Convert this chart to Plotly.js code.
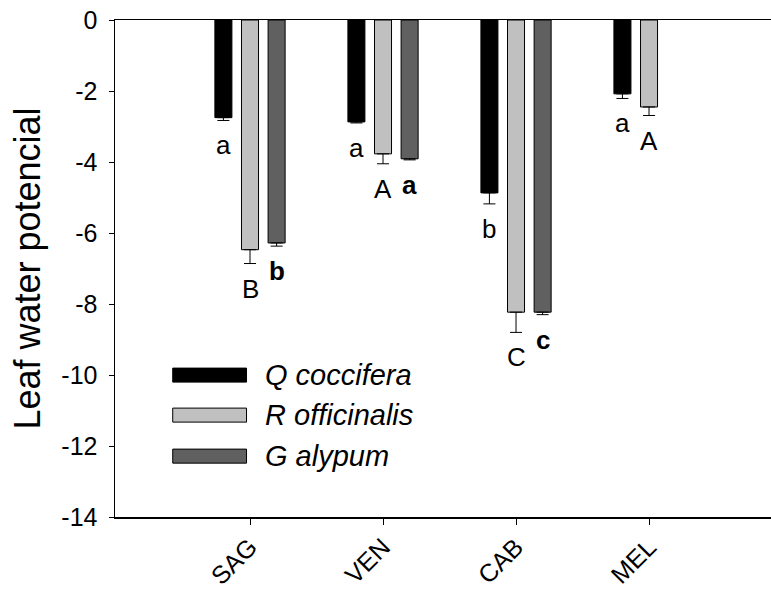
<!DOCTYPE html>
<html>
<head>
<meta charset="utf-8">
<script src="https://cdn.plot.ly/plotly-3.0.1.min.js"></script>
<style>html,body{margin:0;padding:0;background:#fff;}#chart{width:771px;height:590px;}</style>
</head>
<body>
<div id="chart"></div>
<script>
// ---- data ----
const categories = ['SAG', 'VEN', 'CAB', 'MEL'];
const seriesNames = ['Q coccifera', 'R officinalis', 'G alypum'];
const qCoccifera = [-2.75, -2.87, -4.87, -2.08];
const qCocciferaErr = [0.08, 0.03, 0.31, 0.13];
const rOfficinalis = [-6.47, -3.77, -8.23, -2.45];
const rOfficinalisErr = [0.39, 0.28, 0.57, 0.24];
const gAlypum = [-6.28, -3.91, -8.23, null];
const gAlypumErr = [0.09, 0.03, 0.07, null];
const lettersQ = ['a', 'a', 'b', 'a'];
const lettersR = ['B', 'A', 'C', 'A'];
const lettersG = ['b', 'a', 'c', null];
const yTicks = [0, -2, -4, -6, -8, -10, -12, -14];
const yTickLabels = ['0', '-2', '-4', '-6', '-8', '-10', '-12', '-14'];

// ---- styling ----
const FONT = 'Liberation Sans, Arial, Helvetica, sans-serif';
const colors = ['#000000', '#c0c0c0', '#606060'];
const values = [qCoccifera, rOfficinalis, gAlypum];
const errs = [qCocciferaErr, rOfficinalisErr, gAlypumErr];
const letters = [lettersQ, lettersR, lettersG];
const bold = [false, false, true];
const xIdx = categories.map((c, i) => i);
const slot = 0.2;

const traces = values.map((v, s) => ({
  type: 'bar',
  name: seriesNames[s],
  x: xIdx,
  y: v,
  marker: {color: colors[s], line: {color: '#000', width: 1}},
  error_y: {
    type: 'data', symmetric: false,
    array: v.map(() => 0),
    arrayminus: errs[s],
    color: '#000', thickness: 1, width: 6
  },
  showlegend: false
}));

const annotations = [];
values.forEach((v, s) => {
  v.forEach((val, i) => {
    if (val === null || letters[s][i] === null) return;
    annotations.push({
      x: i + (s - 1) * slot, y: val - errs[s][i],
      xref: 'x', yref: 'y',
      text: bold[s] ? '<b>' + letters[s][i] + '</b>' : letters[s][i],
      showarrow: false, xanchor: 'center', yanchor: 'top', yshift: -8,
      font: {family: FONT, size: 26, color: '#000'}
    });
  });
});

// manual legend (wide rectangles like original)
const shapes = [];
const legX0 = 0.088, legX1 = 0.2005;
const legY = [0.2855, 0.205, 0.1225];
seriesNames.forEach((n, s) => {
  shapes.push({
    type: 'rect', xref: 'paper', yref: 'paper',
    x0: legX0, x1: legX1, y0: legY[s] - 0.0141, y1: legY[s] + 0.0141,
    fillcolor: colors[s], line: {color: '#000', width: 1}
  });
  annotations.push({
    x: 0.225, y: legY[s], xref: 'paper', yref: 'paper',
    text: '<i>' + n + '</i>', showarrow: false,
    xanchor: 'left', yanchor: 'middle',
    font: {family: FONT, size: 29, color: '#000'}
  });
});

const layout = {
  width: 771, height: 590,
  margin: {l: 115, r: 0, t: 20, b: 73, pad: 0},
  paper_bgcolor: '#fff', plot_bgcolor: '#fff',
  barmode: 'group', bargap: 0.4, bargroupgap: 0.36,
  font: {family: FONT, color: '#000'},
  xaxis: {
    range: [-1.015, 3.917],
    tickvals: xIdx, ticktext: categories,
    tickangle: -45,
    ticks: 'outside', ticklen: 6, tickwidth: 1, tickcolor: '#000',
    ticklabelstandoff: -2,
    showline: true, linecolor: '#000', linewidth: 1.5, mirror: true,
    showgrid: false, zeroline: false,
    tickfont: {family: FONT, size: 25, color: '#000'}
  },
  yaxis: {
    range: [-14, 0],
    tickvals: yTicks, ticktext: yTickLabels,
    ticks: 'outside', ticklen: 5, tickwidth: 1, tickcolor: '#000',
    ticklabelstandoff: 6,
    showline: true, linecolor: '#000', linewidth: 1.5,
    showgrid: false, zeroline: false,
    tickfont: {family: FONT, size: 25, color: '#000'},
    title: {text: 'Leaf water potencial', font: {family: FONT, size: 36, color: '#000'}, standoff: 10}
  },
  annotations: annotations,
  shapes: shapes,
  showlegend: false
};

Plotly.newPlot('chart', traces, layout, {displayModeBar: false, staticPlot: true});
</script>
</body>
</html>
